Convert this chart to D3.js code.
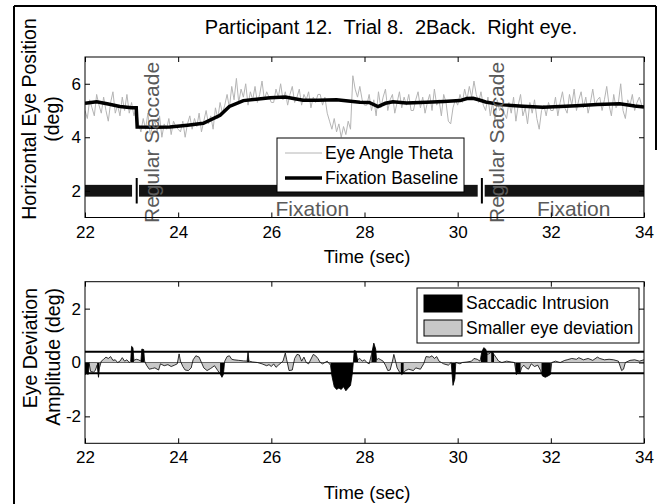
<!DOCTYPE html>
<html>
<head>
<meta charset="utf-8">
<script src="https://cdn.jsdelivr.net/npm/d3@7"></script>
<style>
  body { margin: 0; background: #fff; }
  text { font-family: "Liberation Sans", Arial, sans-serif; fill: #000; }
</style>
</head>
<body>
<div id="chart"></div>
<script>
// ---- data ----

const xTicks = [22, 24, 26, 28, 30, 32, 34];
const topYTicks = [2, 4, 6];
const botYTicks = [-2, 0, 2];

// eye angle theta, sampled every 0.05 s from 22 s
const thetaStart = 22;
const thetaStep = 0.05;
const thetaValues = [
  5.0, 4.7, 5.4, 5.1, 4.8, 5.6, 5.2, 4.9, 5.5, 5.0, 4.6, 5.3, 5.7, 4.9, 5.2, 4.8, 5.5, 5.0, 5.6, 4.9, 5.3, 4.8, 5.1,
  4.5, 4.2, 4.7, 4.3, 4.9, 4.1, 4.4, 4.6, 4.2, 4.8, 4.0, 4.5, 4.3, 4.7, 4.1, 4.6, 4.4, 4.3,
  4.2, 4.6, 4.0, 4.5, 4.8, 4.3, 4.7, 4.4, 4.9, 4.2, 4.6, 5.0, 4.5, 4.8, 4.3, 5.1, 4.7, 5.3, 4.9, 5.2,
  5.6, 5.1, 5.9, 5.4, 6.2, 5.3, 5.8, 5.5, 6.0, 5.2, 5.7, 5.4, 5.9, 5.3, 5.6, 6.1, 5.4, 5.7, 5.5, 5.3,
  5.3, 5.8, 5.5, 6.0, 5.4, 5.7, 5.2, 5.6, 5.9, 5.3, 5.5, 5.8, 5.2, 5.6, 5.4, 5.7, 5.1, 5.5, 5.3, 5.6,
  5.6, 5.2, 5.5, 4.9, 4.6, 4.3, 4.7, 4.2, 4.5, 4.0, 4.4, 4.1, 4.6, 4.3, 6.3, 5.8, 5.5, 5.9, 5.4, 5.2,
  5.2, 5.6, 5.0, 5.4, 4.8, 5.7, 5.1, 5.5, 5.8, 5.0, 5.4, 5.6, 4.9, 5.3, 5.7, 5.1, 5.5, 5.2, 5.6, 5.0,
  5.0, 5.4, 5.7, 5.1, 5.5, 4.9, 5.3, 5.6, 5.0, 5.8, 5.2, 5.4, 4.8, 5.6, 5.3, 4.6, 4.5, 5.1, 5.4, 5.2,
  5.6, 5.3, 5.8, 5.4, 5.9, 5.5, 6.1, 5.6, 5.3, 5.7, 5.2, 5.0, 5.5, 4.8, 5.3, 4.6, 5.4, 5.0, 5.2, 4.9,
  4.7, 5.3, 4.9, 5.5, 4.6, 5.2, 5.6, 4.8, 5.1, 4.5, 5.3, 4.9, 5.4, 4.7, 4.3, 5.0, 5.2, 4.8, 5.3, 5.0,
  5.0, 5.5, 4.8, 5.3, 5.7, 5.1, 4.9, 5.6, 5.2, 5.8, 5.0, 5.4, 5.7, 5.1, 5.5, 4.9, 5.3, 5.8, 5.2, 5.4,
  5.5, 5.0, 5.4, 5.9, 5.2, 4.8, 5.6, 5.1, 5.3, 6.0, 5.0, 4.7, 5.4, 5.2, 5.6, 5.0, 5.3, 5.5, 5.2, 5.1
];

// fixation baseline [time, deg]
const baseline = [
  [22.0, 5.27], [22.25, 5.33], [22.5, 5.24], [22.75, 5.15], [23.0, 5.1], [23.1, 5.1], [23.12, 4.38],
  [23.5, 4.37], [23.82, 4.38], [24.2, 4.45], [24.54, 4.52], [24.9, 4.82], [25.1, 5.15], [25.4, 5.37],
  [25.97, 5.48], [26.3, 5.5], [26.68, 5.38], [27.0, 5.38], [27.4, 5.4], [27.9, 5.31], [28.1, 5.3],
  [28.29, 5.15], [28.45, 5.27], [28.61, 5.33], [28.9, 5.28], [29.33, 5.31], [29.7, 5.34], [30.05, 5.37],
  [30.2, 5.45], [30.33, 5.46], [30.45, 5.4], [30.6, 5.32], [30.97, 5.21], [31.4, 5.16], [31.83, 5.12],
  [32.2, 5.15], [32.55, 5.18], [33.0, 5.22], [33.48, 5.25], [33.8, 5.17], [34.0, 5.13]
];

// fixation periods [start, end] and saccade times
const fixations = [[22, 23.01], [23.16, 30.43], [30.58, 34]];
const saccades = [23.11, 30.52];
const fixationLabelTimes = [26.88, 32.49];

// eye deviation [time, deg]
const deviation = [
  [22.0, -0.45], [22.03, -0.42], [22.07, -0.44], [22.09, -0.05], [22.12, -0.33], [22.18, -0.36], [22.22, -0.3],
  [22.26, -0.1], [22.29, -0.55], [22.31, -0.2], [22.35, 0.05], [22.4, 0.12], [22.45, 0.2], [22.5, 0.15],
  [22.55, 0.22], [22.6, 0.08], [22.65, 0.1], [22.7, 0.0], [22.75, 0.05], [22.8, 0.18], [22.85, 0.05],
  [22.9, 0.1], [22.95, 0.0], [22.98, 0.05], [23.0, 0.6], [23.03, 0.55], [23.05, 0.08], [23.1, 0.12],
  [23.15, 0.1], [23.2, 0.05], [23.22, 0.5], [23.26, 0.48], [23.28, 0.05], [23.32, -0.1], [23.38, -0.25],
  [23.45, -0.22], [23.5, -0.2], [23.58, -0.28], [23.62, -0.05], [23.7, -0.12], [23.78, -0.08], [23.85, -0.15],
  [23.92, -0.1], [23.98, -0.05], [24.02, 0.32], [24.05, 0.05], [24.1, -0.15], [24.15, -0.28], [24.22, -0.3],
  [24.28, -0.2], [24.32, 0.1], [24.38, 0.25], [24.45, 0.2], [24.5, 0.0], [24.55, -0.2], [24.62, -0.3],
  [24.7, -0.22], [24.78, -0.12], [24.85, -0.3], [24.9, -0.42], [24.94, -0.55], [24.97, -0.45], [25.0, 0.05],
  [25.05, 0.22], [25.1, 0.25], [25.15, 0.12], [25.2, 0.1], [25.3, 0.08], [25.4, 0.06], [25.48, 0.05],
  [25.5, 0.4], [25.52, 0.05], [25.6, 0.02], [25.7, 0.0], [25.8, -0.05], [25.9, -0.12], [25.95, -0.08],
  [26.0, -0.15], [26.05, -0.05], [26.1, -0.18], [26.15, -0.1], [26.25, 0.05], [26.3, 0.35], [26.33, 0.1],
  [26.38, -0.3], [26.45, -0.28], [26.5, 0.15], [26.55, 0.3], [26.6, 0.28], [26.65, 0.05], [26.7, 0.2],
  [26.75, 0.0], [26.8, -0.05], [26.9, 0.3], [26.95, 0.25], [27.0, 0.15], [27.05, 0.0], [27.1, -0.05],
  [27.2, 0.05], [27.27, -0.1], [27.3, -0.5], [27.35, -0.9], [27.4, -1.0], [27.45, -0.95], [27.5, -1.0],
  [27.55, -0.9], [27.6, -1.05], [27.65, -0.95], [27.7, -0.85], [27.74, -0.4], [27.76, 0.0], [27.78, 0.45],
  [27.82, 0.42], [27.85, 0.1], [27.9, 0.15], [27.95, 0.05], [28.0, 0.1], [28.05, 0.0], [28.1, -0.05],
  [28.15, 0.3], [28.2, 0.72], [28.24, 0.5], [28.26, 0.1], [28.3, 0.15], [28.35, 0.1], [28.4, 0.05],
  [28.45, -0.1], [28.5, -0.3], [28.55, -0.28], [28.6, 0.05], [28.63, 0.3], [28.66, 0.1], [28.7, -0.2],
  [28.75, -0.35], [28.8, -0.45], [28.83, -0.4], [28.88, -0.3], [28.95, -0.25], [29.05, -0.3], [29.1, -0.2],
  [29.2, -0.25], [29.27, -0.05], [29.32, 0.22], [29.4, 0.2], [29.45, 0.25], [29.5, 0.15], [29.55, 0.22],
  [29.6, 0.05], [29.65, 0.0], [29.7, -0.05], [29.8, -0.1], [29.86, 0.0], [29.9, -0.85], [29.94, -0.6],
  [29.96, 0.0], [30.05, -0.05], [30.1, 0.0], [30.2, 0.02], [30.3, 0.05], [30.35, 0.15], [30.42, 0.12],
  [30.48, 0.05], [30.52, 0.4], [30.56, 0.55], [30.6, 0.5], [30.64, 0.3], [30.7, 0.35], [30.74, 0.42],
  [30.78, 0.3], [30.82, 0.2], [30.88, 0.05], [30.95, 0.0], [31.05, 0.05], [31.15, 0.02], [31.22, 0.0],
  [31.26, -0.45], [31.3, -0.35], [31.34, -0.4], [31.37, -0.2], [31.42, -0.1], [31.47, -0.2], [31.52, -0.25],
  [31.58, -0.05], [31.65, -0.15], [31.72, -0.1], [31.78, -0.3], [31.82, -0.5], [31.88, -0.55], [31.94, -0.5],
  [31.99, -0.45], [32.02, 0.0], [32.1, 0.05], [32.2, 0.0], [32.3, 0.08], [32.35, 0.1], [32.45, 0.15],
  [32.55, 0.12], [32.6, 0.18], [32.7, 0.1], [32.8, 0.15], [32.9, 0.08], [33.0, 0.2], [33.05, 0.15],
  [33.15, 0.1], [33.25, 0.12], [33.35, 0.1], [33.45, 0.05], [33.52, -0.3], [33.56, -0.25], [33.6, 0.0],
  [33.7, 0.08], [33.8, 0.1], [33.9, 0.05], [34.0, 0.1]
];

// saccadic intrusion periods [start, end]
const intrusions = [
  [22.0, 22.09], [22.26, 22.31], [22.98, 23.05], [23.2, 23.28], [24.9, 24.99], [25.48, 25.52],
  [27.27, 27.86], [28.15, 28.26], [28.78, 28.84], [29.86, 29.96], [30.5, 30.64], [30.72, 30.78],
  [31.24, 31.35], [31.8, 32.0]
];
const threshold = 0.4;

// ---- svg ----

const width = 661;
const height = 504;

const svg = d3.select("#chart")
  .append("svg")
  .attr("width", width)
  .attr("height", height);

// figure frame
svg.append("line").attr("x1", 14).attr("x2", 14).attr("y1", 6).attr("y2", height)
  .attr("stroke", "#000").attr("stroke-width", 2);
svg.append("line").attr("x1", 14).attr("x2", 656).attr("y1", 6).attr("y2", 6)
  .attr("stroke", "#000").attr("stroke-width", 2);
svg.append("line").attr("x1", 656).attr("x2", 656).attr("y1", 6).attr("y2", 150)
  .attr("stroke", "#000").attr("stroke-width", 2);

const left = 85, right = 644;
const x = d3.scaleLinear().domain([22, 34]).range([left, right]);

const yTop = d3.scaleLinear().domain([1, 7]).range([217.5, 57]);
const yBot = d3.scaleLinear().domain([-3, 3]).range([443.3, 281.7]);

function drawAxes(y, yTicks) {
  const [y0, y1] = y.range();
  const g = svg.append("g");

  g.append("g")
    .attr("transform", `translate(0,${y0})`)
    .call(d3.axisBottom(x).tickValues(xTicks).tickSize(-5).tickPadding(8))
    .call((a) => a.select(".domain").remove());
  g.append("g")
    .attr("transform", `translate(0,${y1})`)
    .call(d3.axisTop(x).tickValues(xTicks).tickSize(-5).tickFormat(""))
    .call((a) => a.select(".domain").remove());
  g.append("g")
    .attr("transform", `translate(${left},0)`)
    .call(d3.axisLeft(y).tickValues(yTicks).tickSize(-5).tickPadding(4).tickFormat((d) => String(d)))
    .call((a) => a.select(".domain").remove());
  g.append("g")
    .attr("transform", `translate(${right},0)`)
    .call(d3.axisRight(y).tickValues(yTicks).tickSize(-5).tickFormat(""))
    .call((a) => a.select(".domain").remove());

  g.selectAll(".tick line").attr("stroke", "#000");
  g.selectAll(".tick text")
    .style("font-size", "17px")
    .style("font-family", '"Liberation Sans", Arial, sans-serif');

  // box
  g.append("rect")
    .attr("x", left).attr("y", y1)
    .attr("width", right - left).attr("height", y0 - y1)
    .attr("fill", "none").attr("stroke", "#000").attr("stroke-width", 1);
  return g;
}

// ---- top panel ----

svg.append("clipPath").attr("id", "clipTop")
  .append("rect").attr("x", left).attr("y", 57).attr("width", right - left).attr("height", 160.5);

const theta = thetaValues.map((v, i) => [thetaStart + i * thetaStep, v]);

const topG = svg.append("g").attr("clip-path", "url(#clipTop)");

topG.append("path")
  .datum(theta)
  .attr("d", d3.line().x((d) => x(d[0])).y((d) => yTop(d[1])))
  .attr("fill", "none")
  .attr("stroke", "#b4b4b4")
  .attr("stroke-width", 1);

topG.append("path")
  .datum(baseline)
  .attr("d", d3.line().x((d) => x(d[0])).y((d) => yTop(d[1])))
  .attr("fill", "none")
  .attr("stroke", "#000")
  .attr("stroke-width", 3.5);

// fixation bars
topG.selectAll("rect.fix")
  .data(fixations)
  .join("rect")
  .attr("class", "fix")
  .attr("x", (d) => x(d[0]))
  .attr("width", (d) => x(d[1]) - x(d[0]))
  .attr("y", yTop(2.22))
  .attr("height", yTop(1.78) - yTop(2.22))
  .attr("fill", "#141414");

// saccade markers
topG.selectAll("line.sac")
  .data(saccades)
  .join("line")
  .attr("class", "sac")
  .attr("x1", (d) => x(d)).attr("x2", (d) => x(d))
  .attr("y1", yTop(2.48)).attr("y2", yTop(1.52))
  .attr("stroke", "#000").attr("stroke-width", 2);

// labels
svg.selectAll("text.sacLabel")
  .data(saccades)
  .join("text")
  .attr("class", "sacLabel")
  .attr("transform", (d) => `translate(${x(d) + 22},${223}) rotate(-90)`)
  .style("font-size", "21px")
  .style("fill", "#5a5a5a")
  .text("Regular Saccade");

svg.selectAll("text.fixLabel")
  .data(fixationLabelTimes)
  .join("text")
  .attr("class", "fixLabel")
  .attr("x", (d) => x(d))
  .attr("y", 216)
  .attr("text-anchor", "middle")
  .style("font-size", "21px")
  .style("fill", "#5a5a5a")
  .text("Fixation");

drawAxes(yTop, topYTicks);

// legend top
const lg1 = svg.append("g");
lg1.append("rect")
  .attr("x", 277).attr("y", 138).attr("width", 187).attr("height", 54)
  .attr("fill", "#fff").attr("stroke", "#000").attr("stroke-width", 1);
lg1.append("line").attr("x1", 285).attr("x2", 322).attr("y1", 153).attr("y2", 153)
  .attr("stroke", "#b4b4b4").attr("stroke-width", 1);
lg1.append("line").attr("x1", 285).attr("x2", 322).attr("y1", 178).attr("y2", 178)
  .attr("stroke", "#000").attr("stroke-width", 3.5);
lg1.append("text").attr("x", 325).attr("y", 159).style("font-size", "17.5px").text("Eye Angle Theta");
lg1.append("text").attr("x", 325).attr("y", 184).style("font-size", "17.5px").text("Fixation Baseline");

// title & axis labels
svg.append("text")
  .attr("x", 391).attr("y", 34)
  .attr("text-anchor", "middle")
  .style("font-size", "20px")
  .style("white-space", "pre")
  .text("Participant 12.  Trial 8.  2Back.  Right eye.");

svg.append("text")
  .attr("x", 367).attr("y", 263)
  .attr("text-anchor", "middle")
  .style("font-size", "18.5px")
  .text("Time (sec)");

const yl1 = svg.append("text")
  .attr("transform", "translate(36,119) rotate(-90)")
  .attr("text-anchor", "middle")
  .style("font-size", "19.5px");
yl1.append("tspan").attr("x", 0).attr("y", 0).text("Horizontal Eye Position");
yl1.append("tspan").attr("x", 0).attr("y", 23).text("(deg)");

// ---- bottom panel ----

svg.append("clipPath").attr("id", "clipBot")
  .append("rect").attr("x", left).attr("y", 281.7).attr("width", right - left).attr("height", 161.6);

svg.append("clipPath").attr("id", "clipIntr")
  .selectAll("rect")
  .data(intrusions)
  .join("rect")
  .attr("x", (d) => x(d[0]))
  .attr("width", (d) => x(d[1]) - x(d[0]))
  .attr("y", 281.7)
  .attr("height", 161.6);

const botG = svg.append("g").attr("clip-path", "url(#clipBot)");

const area = d3.area()
  .x((d) => x(d[0]))
  .y0(yBot(0))
  .y1((d) => yBot(d[1]));

botG.append("path")
  .datum(deviation)
  .attr("d", area)
  .attr("fill", "#c8c8c8");

botG.append("path")
  .datum(deviation)
  .attr("d", area)
  .attr("clip-path", "url(#clipIntr)")
  .attr("fill", "#000");

botG.append("line")
  .attr("x1", left).attr("x2", right)
  .attr("y1", yBot(0)).attr("y2", yBot(0))
  .attr("stroke", "#666").attr("stroke-width", 1);

botG.append("path")
  .datum(deviation)
  .attr("d", d3.line().x((d) => x(d[0])).y((d) => yBot(d[1])))
  .attr("fill", "none")
  .attr("stroke", "#000")
  .attr("stroke-width", 0.8);

botG.selectAll("line.thr")
  .data([threshold, -threshold])
  .join("line")
  .attr("class", "thr")
  .attr("x1", left).attr("x2", right)
  .attr("y1", (d) => yBot(d)).attr("y2", (d) => yBot(d))
  .attr("stroke", "#000").attr("stroke-width", 1.8);

drawAxes(yBot, botYTicks);

// legend bottom
const lg2 = svg.append("g");
lg2.append("rect")
  .attr("x", 417).attr("y", 288).attr("width", 222).attr("height", 55)
  .attr("fill", "#fff").attr("stroke", "#000").attr("stroke-width", 1);
lg2.append("rect").attr("x", 424).attr("y", 295).attr("width", 38).attr("height", 17)
  .attr("fill", "#000").attr("stroke", "#000");
lg2.append("rect").attr("x", 424).attr("y", 320).attr("width", 38).attr("height", 16)
  .attr("fill", "#c8c8c8").attr("stroke", "#000");
lg2.append("text").attr("x", 466).attr("y", 309).style("font-size", "17.5px").text("Saccadic Intrusion");
lg2.append("text").attr("x", 466).attr("y", 334).style("font-size", "17.5px").text("Smaller eye deviation");

svg.append("text")
  .attr("x", 367).attr("y", 499)
  .attr("text-anchor", "middle")
  .style("font-size", "18.5px")
  .text("Time (sec)");

const yl2 = svg.append("text")
  .attr("transform", "translate(37,288) rotate(-90)")
  .attr("text-anchor", "end")
  .style("font-size", "19.5px");
yl2.append("tspan").attr("x", 0).attr("y", 0).text("Eye Deviation");
yl2.append("tspan").attr("x", 0).attr("y", 23).text("Amplitude (deg)");
</script>
</body>
</html>
